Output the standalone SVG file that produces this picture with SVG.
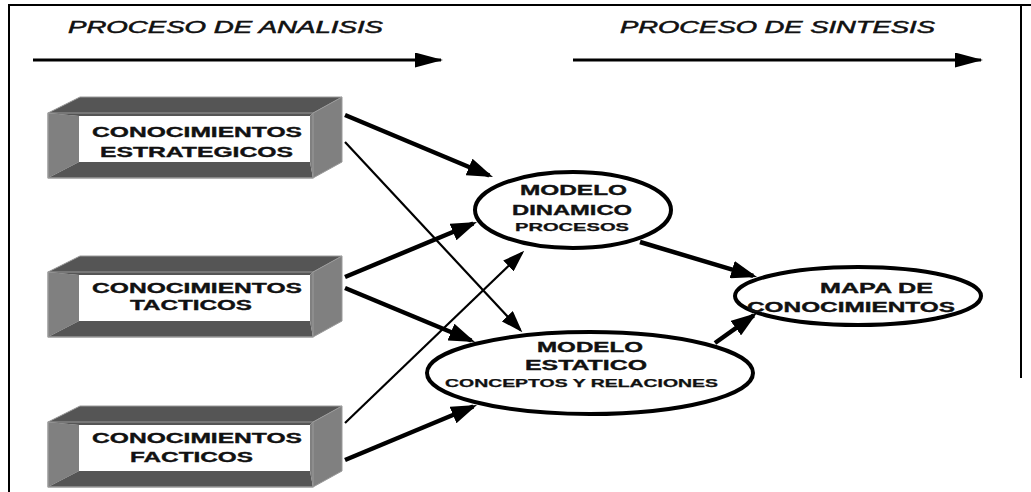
<svg xmlns="http://www.w3.org/2000/svg" width="1031" height="492" viewBox="0 0 1031 492">
<style>
.frame{stroke:#000;stroke-width:2;fill:none}
.hdr{font-family:"Liberation Sans",Arial,sans-serif;font-style:italic;font-size:16px;fill:#111;stroke:#111;stroke-width:0.5}
.bt{font-family:"Liberation Sans",Arial,sans-serif;font-weight:bold;font-size:14px;fill:#111;stroke:#111;stroke-width:0.35}
.st{font-family:"Liberation Sans",Arial,sans-serif;font-weight:bold;font-size:10.5px;fill:#111;stroke:#111;stroke-width:0.25}
.ell{fill:#fff;stroke:#000;stroke-width:4}
.thick{stroke:#000;stroke-width:4.5;fill:none}
.thin{stroke:#000;stroke-width:2.2;fill:none}
.flow{stroke:#000;stroke-width:3;fill:none}
.dk{fill:#555}
.md{fill:#808080}
.edge{stroke:#9a9a9a;stroke-width:1;fill:none}
</style>
<defs>
<marker id="ahT" markerUnits="userSpaceOnUse" viewBox="0 0 26 18" markerWidth="26" markerHeight="18" refX="22" refY="9" orient="auto">
<path d="M0,0 L26,9 L0,18 z" fill="#000"/>
</marker>
<marker id="aht" markerUnits="userSpaceOnUse" viewBox="0 0 22 15" markerWidth="22" markerHeight="15" refX="19" refY="7.5" orient="auto">
<path d="M0,0 L22,7.5 L0,15 z" fill="#000"/>
</marker>
<marker id="ahF" markerUnits="userSpaceOnUse" viewBox="0 0 28 15" markerWidth="28" markerHeight="15" refX="26" refY="7.5" orient="auto">
<path d="M0,0 L28,7.5 L0,15 z" fill="#000"/>
</marker>
<g id="box">
<polygon class="dk" points="0,0 32,-16 294,-16 265,0"/>
<polygon class="md" points="265,0 294,-16 294,49 265,65"/>
<polygon class="md" points="0,0 31,3 31,49 0,65"/>
<polygon class="dk" points="0,65 31,49 262,49 265,65"/>
<polygon class="dk" points="0,0 265,0 262,3 31,3"/>
<polygon class="md" points="262,3 265,0 265,65 262,49"/>
<rect x="31" y="3" width="231" height="46" fill="#fff"/>
<polygon class="edge" points="0,0 32,-16 294,-16 294,49 265,65 0,65"/>
<line class="edge" x1="265" y1="0" x2="294" y2="-16"/>
<rect class="edge" x="0" y="0" width="265" height="65"/>
</g>
</defs>

<g id="frame">
<polyline class="frame" points="9,492 9,5 1031,5"/>
<line class="frame" x1="1021" y1="5" x2="1021" y2="378"/>
</g>

<g id="header-analisis">
<text class="hdr" x="68" y="33" textLength="315" lengthAdjust="spacingAndGlyphs">PROCESO DE ANALISIS</text>
</g>
<g id="header-sintesis">
<text class="hdr" x="620" y="33" textLength="315" lengthAdjust="spacingAndGlyphs">PROCESO DE SINTESIS</text>
</g>

<g id="node-estrategicos">
<use href="#box" transform="translate(48,113)"/>
<text class="bt" x="92" y="137" textLength="210" lengthAdjust="spacingAndGlyphs">CONOCIMIENTOS</text>
<text class="bt" x="100" y="157" textLength="193" lengthAdjust="spacingAndGlyphs">ESTRATEGICOS</text>
</g>
<g id="node-tacticos">
<use href="#box" transform="translate(48,272)"/>
<text class="bt" x="92" y="293" textLength="210" lengthAdjust="spacingAndGlyphs">CONOCIMIENTOS</text>
<text class="bt" x="130" y="310" textLength="122" lengthAdjust="spacingAndGlyphs">TACTICOS</text>
</g>
<g id="node-facticos">
<use href="#box" transform="translate(48,422)"/>
<text class="bt" x="92" y="443" textLength="210" lengthAdjust="spacingAndGlyphs">CONOCIMIENTOS</text>
<text class="bt" x="130" y="462" textLength="123" lengthAdjust="spacingAndGlyphs">FACTICOS</text>
</g>

<g id="node-dinamico">
<ellipse class="ell" cx="573" cy="210" rx="98" ry="38"/>
<text class="bt" x="520" y="195" textLength="107" lengthAdjust="spacingAndGlyphs">MODELO</text>
<text class="bt" x="512" y="215" textLength="120" lengthAdjust="spacingAndGlyphs">DINAMICO</text>
<text class="st" x="515" y="231" textLength="114" lengthAdjust="spacingAndGlyphs">PROCESOS</text>
</g>
<g id="node-estatico">
<ellipse class="ell" cx="590" cy="373" rx="163" ry="41"/>
<text class="bt" x="537" y="352" textLength="106" lengthAdjust="spacingAndGlyphs">MODELO</text>
<text class="bt" x="525" y="370" textLength="122" lengthAdjust="spacingAndGlyphs">ESTATICO</text>
<text class="st" x="445" y="387" textLength="273" lengthAdjust="spacingAndGlyphs">CONCEPTOS Y RELACIONES</text>
</g>
<g id="node-mapa">
<ellipse class="ell" cx="858" cy="296" rx="123" ry="29"/>
<text class="bt" x="820" y="293" textLength="113" lengthAdjust="spacingAndGlyphs">MAPA DE</text>
<text class="bt" x="747" y="312" textLength="208" lengthAdjust="spacingAndGlyphs">CONOCIMIENTOS</text>
</g>

<g id="connectors">
<line class="flow" x1="33" y1="60" x2="441" y2="60" marker-end="url(#ahF)"/>
<line class="flow" x1="573" y1="60" x2="981" y2="60" marker-end="url(#ahF)"/>
<line class="thick" x1="345" y1="115" x2="489.3" y2="175.5" marker-end="url(#ahT)"/>
<line class="thin" x1="345" y1="142" x2="520.3" y2="330.1" marker-end="url(#aht)"/>
<line class="thick" x1="345" y1="277" x2="473.3" y2="223.5" marker-end="url(#ahT)"/>
<line class="thick" x1="345" y1="288" x2="471.3" y2="340.5" marker-end="url(#ahT)"/>
<line class="thin" x1="345" y1="423" x2="522.1" y2="252.8" marker-end="url(#aht)"/>
<line class="thick" x1="345" y1="460" x2="473.3" y2="406.5" marker-end="url(#ahT)"/>
<line class="thick" x1="640" y1="242" x2="753.2" y2="275.9" marker-end="url(#ahT)"/>
<line class="thick" x1="715" y1="343" x2="753.7" y2="315.3" marker-end="url(#ahT)"/>
</g>
</svg>
